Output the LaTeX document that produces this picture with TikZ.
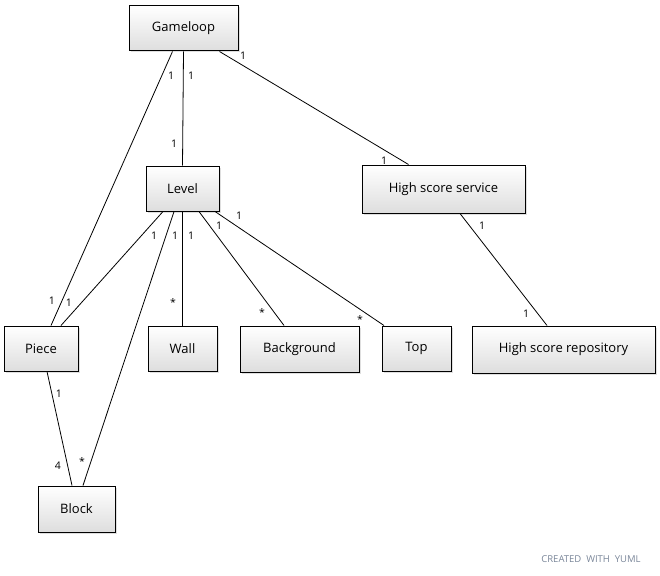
\documentclass[tikz,border=0pt]{standalone}
\usepackage{fontspec}
\setmainfont{Open Sans}
\usetikzlibrary{shadows}
\definecolor{yumlgray}{HTML}{7A8699}
\tikzset{
  cls/.style={draw=black, line width=1pt, top color=white, bottom color=black!13,
    drop shadow={shadow xshift=1.5pt, shadow yshift=-1.5pt, opacity=0.25},
    inner sep=0pt, font=\fontsize{13}{15}\selectfont},
  assoc/.style={draw=black, line width=0.8pt},
  lab/.style={font=\fontsize{10.5}{12}\selectfont, inner sep=0pt}
}
\begin{document}
\begin{tikzpicture}[x=1pt,y=-1pt]
\useasboundingbox (0,0) rectangle (660,575);
% classes
\node[cls, minimum width=109pt, minimum height=45pt] (gl)  at (183.5,28.5) {Gameloop};
\node[cls, minimum width=73pt,  minimum height=45pt] (lvl) at (182.5,188.5) {Level};
\node[cls, minimum width=163pt, minimum height=48pt] (hss) at (443.5,189) {High score service};
\node[cls, minimum width=74pt,  minimum height=45pt] (pc)  at (41,348.5) {Piece};
\node[cls, minimum width=69pt,  minimum height=45pt] (wl)  at (182.5,348.5) {Wall};
\node[cls, minimum width=119pt, minimum height=46pt] (bg)  at (299.5,349) {Background};
\node[cls, minimum width=69pt,  minimum height=45pt] (tp)  at (416.5,348.5) {Top};
\node[cls, minimum width=183pt, minimum height=47pt] (hsr) at (563.5,349.5) {High score repository};
\node[cls, minimum width=77pt,  minimum height=46pt] (blk) at (76.5,509) {Block};
% associations
\draw[assoc] ([xshift=-11pt]gl.south) -- ([xshift=10pt]pc.north);
\draw[assoc] (gl.south) -- (lvl.north);
\draw[assoc] ([xshift=36pt]gl.south) -- ([xshift=-35pt]hss.north);
\draw[assoc] ([xshift=-19.5pt]lvl.south) -- ([xshift=20pt]pc.north);
\draw[assoc] ([xshift=-8.5pt]lvl.south) -- ([xshift=6.5pt]blk.north);
\draw[assoc] (lvl.south) -- (wl.north);
\draw[assoc] ([xshift=16.5pt]lvl.south) -- ([xshift=-15.5pt]bg.north);
\draw[assoc] ([xshift=32.5pt]lvl.south) -- ([xshift=-32.5pt]tp.north);
\draw[assoc] ([xshift=16.5pt]hss.south) -- ([xshift=-16.5pt]hsr.north);
\draw[assoc] ([xshift=6pt]pc.south) -- ([xshift=-4.5pt]blk.north);
% multiplicities
\node[lab] (m1)  at (171,76)  {1};
\node[lab] (m2)  at (52,301)  {1};
\node[lab] (m3)  at (191,76)  {1};
\node[lab] (m4)  at (174,144) {1};
\node[lab] (m5)  at (243,56)  {1};
\node[lab] (m6)  at (384,161) {1};
\node[lab] (m7)  at (154,236) {1};
\node[lab] (m8)  at (69,303)  {1};
\node[lab] (m9)  at (175,236) {1};
\node[lab] (m10) at (82,462)  {*};
\node[lab] (m11) at (191,236) {1};
\node[lab] (m12) at (173,303) {*};
\node[lab] (m13) at (219,226) {1};
\node[lab] (m14) at (262,313) {*};
\node[lab] (m15) at (239,216) {1};
\node[lab] (m16) at (360,320) {*};
\node[lab] (m17) at (482,226) {1};
\node[lab] (m18) at (526,314) {1};
\node[lab] (m19) at (59,394)  {1};
\node[lab] (m20) at (58,466)  {4};
% credit
\node[font=\fontsize{9.5}{11}\selectfont, text=yumlgray, inner sep=0pt] (credit) at (591,559.5) {CREATED\ \ WITH\ \ YUML};
\end{tikzpicture}
\end{document}
